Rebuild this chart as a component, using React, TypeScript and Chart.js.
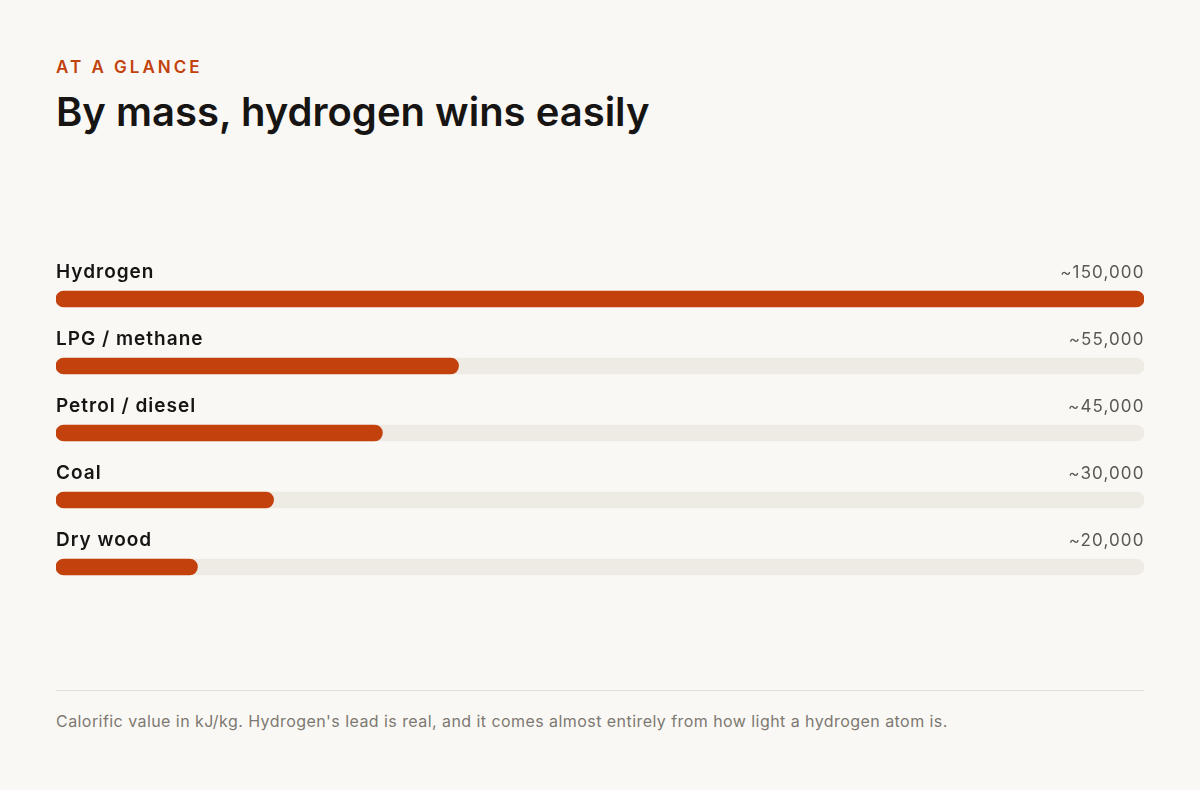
import React, { useEffect, useRef } from "react";
import { Chart, registerables } from "chart.js";

Chart.register(...registerables);

const fuels = ["Hydrogen", "LPG / methane", "Petrol / diesel", "Coal", "Dry wood"];
const calorificValues = [150000, 55500, 45000, 30000, 19500];
const valueLabels = ["~150,000", "~55,000", "~45,000", "~30,000", "~20,000"];
const scaleMax = 150000;

const ORANGE = "#c2410c";
const TRACK = "#eeeae4";
const BG = "#faf8f4";
const FONT = "Inter, 'Noto Sans', sans-serif";

// draws category name above each bar (left) and value (right)
const rowLabels = {
  id: "rowLabels",
  afterDatasetsDraw(chart: Chart) {
    const { ctx, chartArea } = chart;
    const meta = chart.getDatasetMeta(1);
    ctx.save();
    ctx.textBaseline = "alphabetic";
    meta.data.forEach((bar: any, i: number) => {
      const y = bar.y - 21;
      ctx.fillStyle = "#161513";
      ctx.font = `600 19px ${FONT}`;
      (ctx as any).letterSpacing = "1px";
      ctx.textAlign = "left";
      ctx.fillText(fuels[i], chartArea.left, y);
      ctx.fillStyle = "#5b5853";
      ctx.font = `400 17px ${FONT}`;
      (ctx as any).letterSpacing = "1.1px";
      ctx.textAlign = "right";
      ctx.fillText(valueLabels[i], chartArea.right + 0.5, y);
    });
    ctx.restore();
  },
};

function FuelBars() {
  const chartRef = useRef<HTMLCanvasElement | null>(null);
  const chartInstanceRef = useRef<Chart | null>(null);

  useEffect(() => {
    if (!chartRef.current) return;
    const ctx = chartRef.current.getContext("2d");
    if (!ctx) return;
    if (chartInstanceRef.current) chartInstanceRef.current.destroy();

    chartInstanceRef.current = new Chart(ctx, {
      type: "bar",
      data: {
        labels: fuels,
        datasets: [
          {
            label: "track",
            data: fuels.map(() => scaleMax),
            backgroundColor: TRACK,
            borderRadius: 8,
            borderSkipped: false,
            barThickness: 16,
            grouped: false,
            order: 2,
          },
          {
            label: "kJ/kg",
            data: calorificValues,
            backgroundColor: ORANGE,
            borderRadius: 8,
            borderSkipped: false,
            barThickness: 16,
            grouped: false,
            order: 1,
          },
        ],
      },
      options: {
        indexAxis: "y",
        responsive: false,
        maintainAspectRatio: false,
        animation: false,
        layout: { padding: { top: 35.5, bottom: 9.5, left: 0, right: 0 } },
        plugins: {
          legend: { display: false },
          tooltip: { enabled: false },
        },
        scales: {
          x: { display: false, min: 0, max: scaleMax },
          y: { display: false },
        },
      },
      plugins: [rowLabels],
    });

    return () => {
      if (chartInstanceRef.current) {
        chartInstanceRef.current.destroy();
        chartInstanceRef.current = null;
      }
    };
  }, []);

  return (
    <canvas
      ref={chartRef}
      width={1088}
      height={380}
      style={{ position: "absolute", left: 56, top: 230, width: 1088, height: 380 }}
    />
  );
}

export default function App() {
  return (
    <div
      style={{
        position: "fixed",
        inset: 0,
        width: 1200,
        height: 790,
        background: BG,
        fontFamily: FONT,
        overflow: "hidden",
      }}
    >
      <div
        style={{
          position: "absolute",
          left: 56,
          top: 56,
          fontSize: 17,
          fontWeight: 600,
          letterSpacing: 3,
          color: ORANGE,
          lineHeight: "22px",
        }}
      >
        AT A GLANCE
      </div>
      <div
        style={{
          position: "absolute",
          left: 56,
          top: 86,
          fontSize: 40,
          fontWeight: 600,
          color: "#161513",
          lineHeight: "52px",
        }}
      >
        By mass, hydrogen wins easily
      </div>
      <FuelBars />
      <div
        style={{
          position: "absolute",
          left: 56,
          top: 690,
          width: 1088,
          height: 1,
          background: "#e3e0da",
        }}
      />
      <div
        style={{
          position: "absolute",
          left: 56,
          top: 710,
          fontSize: 16,
          color: "#7d7972",
          lineHeight: "22px",
          letterSpacing: 0.44,
          whiteSpace: "nowrap",
        }}
      >
        Calorific value in kJ/kg. Hydrogen's lead is real, and it comes almost entirely from how light a
        hydrogen atom is.
      </div>
    </div>
  );
}
